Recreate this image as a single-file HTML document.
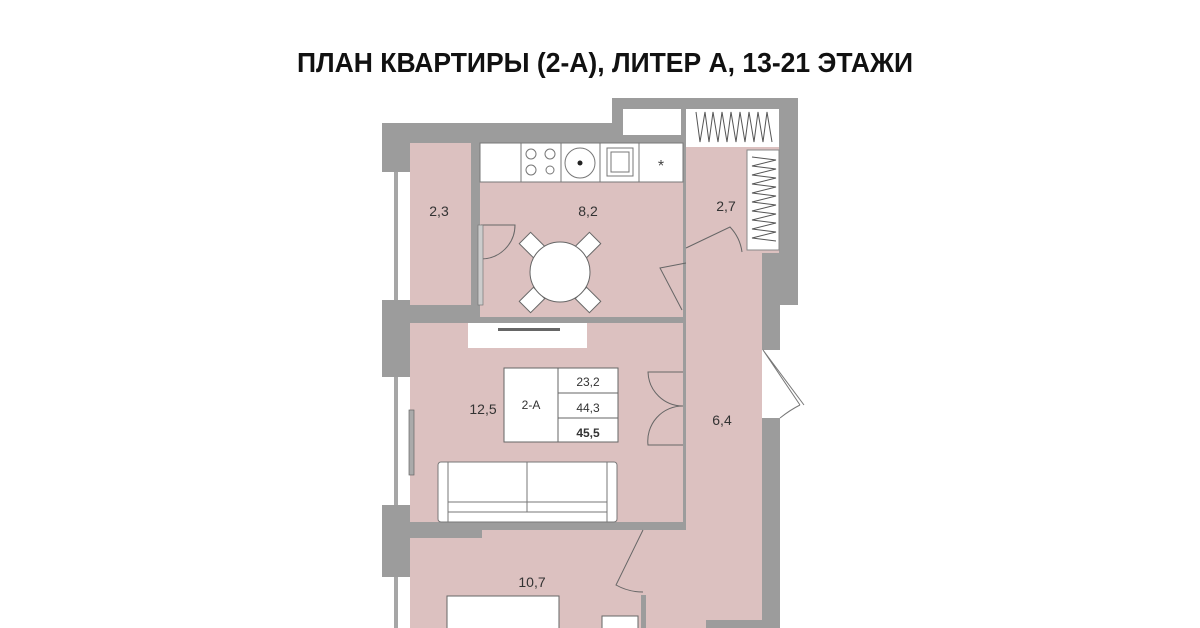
<!DOCTYPE html>
<html><head><meta charset="utf-8"><style>
html,body{margin:0;padding:0;background:#fff;}
svg{display:block;}
text{font-family:"Liberation Sans","DejaVu Sans",sans-serif;}
</style></head><body>
<svg width="1200" height="628" viewBox="0 0 1200 628" xmlns="http://www.w3.org/2000/svg">
<rect width="1200" height="628" fill="#fff"/>
<text x="297" y="72" font-size="28" font-weight="bold" fill="#111" textLength="616" lengthAdjust="spacingAndGlyphs">ПЛАН КВАРТИРЫ (2-А), ЛИТЕР А, 13-21 ЭТАЖИ</text>

<path d="M382 123 H612 V98 H798 V305 H780 V628 H382 Z" fill="#9c9c9c"/>
<rect x="382" y="172" width="28" height="128" fill="#fff"/>
<rect x="382" y="377" width="28" height="128" fill="#fff"/>
<rect x="382" y="577" width="28" height="51" fill="#fff"/>
<g stroke="#888" stroke-width="1.5" fill="none">
<line x1="395" y1="172" x2="395" y2="300"/><line x1="397" y1="172" x2="397" y2="300"/>
<line x1="395" y1="377" x2="395" y2="505"/><line x1="397" y1="377" x2="397" y2="505"/>
<line x1="395" y1="577" x2="395" y2="628"/><line x1="397" y1="577" x2="397" y2="628"/>
</g>
<rect x="762" y="350" width="40" height="68" fill="#fff"/>
<rect x="780" y="305" width="20" height="45" fill="#fff"/>
<rect x="780" y="350" width="30" height="278" fill="#fff"/>
<rect x="762" y="288" width="18" height="62" fill="#9c9c9c"/>
<rect x="762" y="418" width="18" height="210" fill="#9c9c9c"/>
<path d="M763 350 L804 405 M763 350 L800 405 M800 405 Q790 410 780 418" stroke="#777" fill="none" stroke-width="1"/>

<g fill="#dcc1c0">
<rect x="410" y="143" width="61" height="162"/>
<rect x="480" y="143" width="203" height="174"/>
<rect x="686" y="147" width="93" height="106"/>
<rect x="686" y="253" width="76" height="375"/>
<rect x="410" y="323" width="273" height="199"/>
<rect x="410" y="530" width="233" height="98"/>
<rect x="643" y="530" width="43" height="98"/>
</g>
<rect x="641" y="522" width="45" height="8" fill="#9c9c9c"/>
<rect x="641" y="595" width="5" height="33" fill="#9c9c9c"/>
<rect x="410" y="522" width="72" height="16" fill="#9c9c9c"/>

<rect x="623" y="109" width="58" height="26" fill="#fff"/>
<rect x="686" y="109" width="93" height="38" fill="#fff"/>
<rect x="747" y="150" width="32" height="100" fill="#fff" stroke="#888" stroke-width="1"/>
<g stroke="#555" stroke-width="1" fill="none">
<path d="M696 112 L700 142 L705 112 L709 142 L713 112 L718 142 L722 112 L727 142 L731 112 L736 142 L740 112 L745 142 L749 112 L754 142 L758 112 L763 142 L767 112 L772 142"/>
<path d="M752 157 L776 160 L752 166 L776 169 L752 175 L776 178 L752 184 L776 187 L752 193 L776 196 L752 202 L776 205 L752 211 L776 214 L752 220 L776 223 L752 229 L776 232 L752 238 L776 241"/>
</g>

<g fill="#fff" stroke="#777" stroke-width="1">
<rect x="480" y="143" width="203" height="39"/>
<rect x="521" y="143" width="40" height="39"/>
<rect x="561" y="143" width="39" height="39"/>
<rect x="600" y="143" width="39" height="39"/>
<circle cx="531" cy="154" r="5"/><circle cx="550" cy="154" r="5"/>
<circle cx="531" cy="170" r="5"/><circle cx="550" cy="170" r="4"/>
<circle cx="580" cy="163" r="15"/>
<rect x="607" y="148" width="26" height="28"/>
<rect x="611" y="152" width="18" height="20"/>
</g>
<circle cx="580" cy="163" r="2.5" fill="#222"/>
<text x="661" y="171" font-size="16" fill="#444" text-anchor="middle">*</text>

<g fill="#fff" stroke="#666" stroke-width="1">
<rect x="-10" y="-8" width="20" height="16" transform="translate(532 245) rotate(45)"/>
<rect x="-10" y="-8" width="20" height="16" transform="translate(588 245) rotate(-45)"/>
<rect x="-10" y="-8" width="20" height="16" transform="translate(532 300) rotate(-45)"/>
<rect x="-10" y="-8" width="20" height="16" transform="translate(588 300) rotate(45)"/>
<circle cx="560" cy="272" r="30"/>
</g>

<g fill="none" stroke="#666" stroke-width="1">
<path d="M481 225 H515 A34 34 0 0 1 481 259"/>
<path d="M686 248 L730 227 A45 45 0 0 1 742 252"/>
<path d="M686 263 L660 268 L682 310"/>
<path d="M683 372 H648 A35 35 0 0 0 683 406 A35 35 0 0 0 648 445 H683"/>
<path d="M643 530 L616 585 A55 55 0 0 0 643 592"/>
</g>
<rect x="478" y="225" width="5" height="80" fill="#ccc" stroke="#777" stroke-width=".7"/>

<rect x="468" y="323" width="119" height="25" fill="#fff"/>
<rect x="498" y="328" width="62" height="3" fill="#666"/>
<rect x="409" y="410" width="5" height="65" fill="#aaa" stroke="#666" stroke-width=".7"/>

<g fill="#fff" stroke="#666" stroke-width="1">
<rect x="504" y="368" width="114" height="74"/>
<line x1="558" y1="368" x2="558" y2="442"/>
<line x1="558" y1="393" x2="618" y2="393"/>
<line x1="558" y1="418" x2="618" y2="418"/>
</g>
<g font-size="12" fill="#333" text-anchor="middle">
<text x="531" y="409">2-А</text>
<text x="588" y="386">23,2</text>
<text x="588" y="412">44,3</text>
<text x="588" y="437" font-weight="bold">45,5</text>
</g>

<g fill="#fff" stroke="#777" stroke-width="1">
<rect x="438" y="462" width="179" height="60" rx="3"/>
<rect x="448" y="462" width="159" height="60"/>
<line x1="527" y1="462" x2="527" y2="512"/>
<line x1="448" y1="502" x2="607" y2="502"/>
<line x1="448" y1="512" x2="607" y2="512"/>
</g>
<rect x="447" y="596" width="112" height="40" fill="#fff" stroke="#666" stroke-width="1"/>
<rect x="602" y="616" width="36" height="20" fill="#fff" stroke="#666" stroke-width="1"/>
<rect x="706" y="620" width="56" height="10" fill="#9c9c9c"/>

<g font-size="14" fill="#333" text-anchor="middle">
<text x="439" y="216">2,3</text>
<text x="588" y="216">8,2</text>
<text x="726" y="211">2,7</text>
<text x="483" y="414">12,5</text>
<text x="722" y="425">6,4</text>
<text x="532" y="587">10,7</text>
</g>
</svg>
</body></html>
